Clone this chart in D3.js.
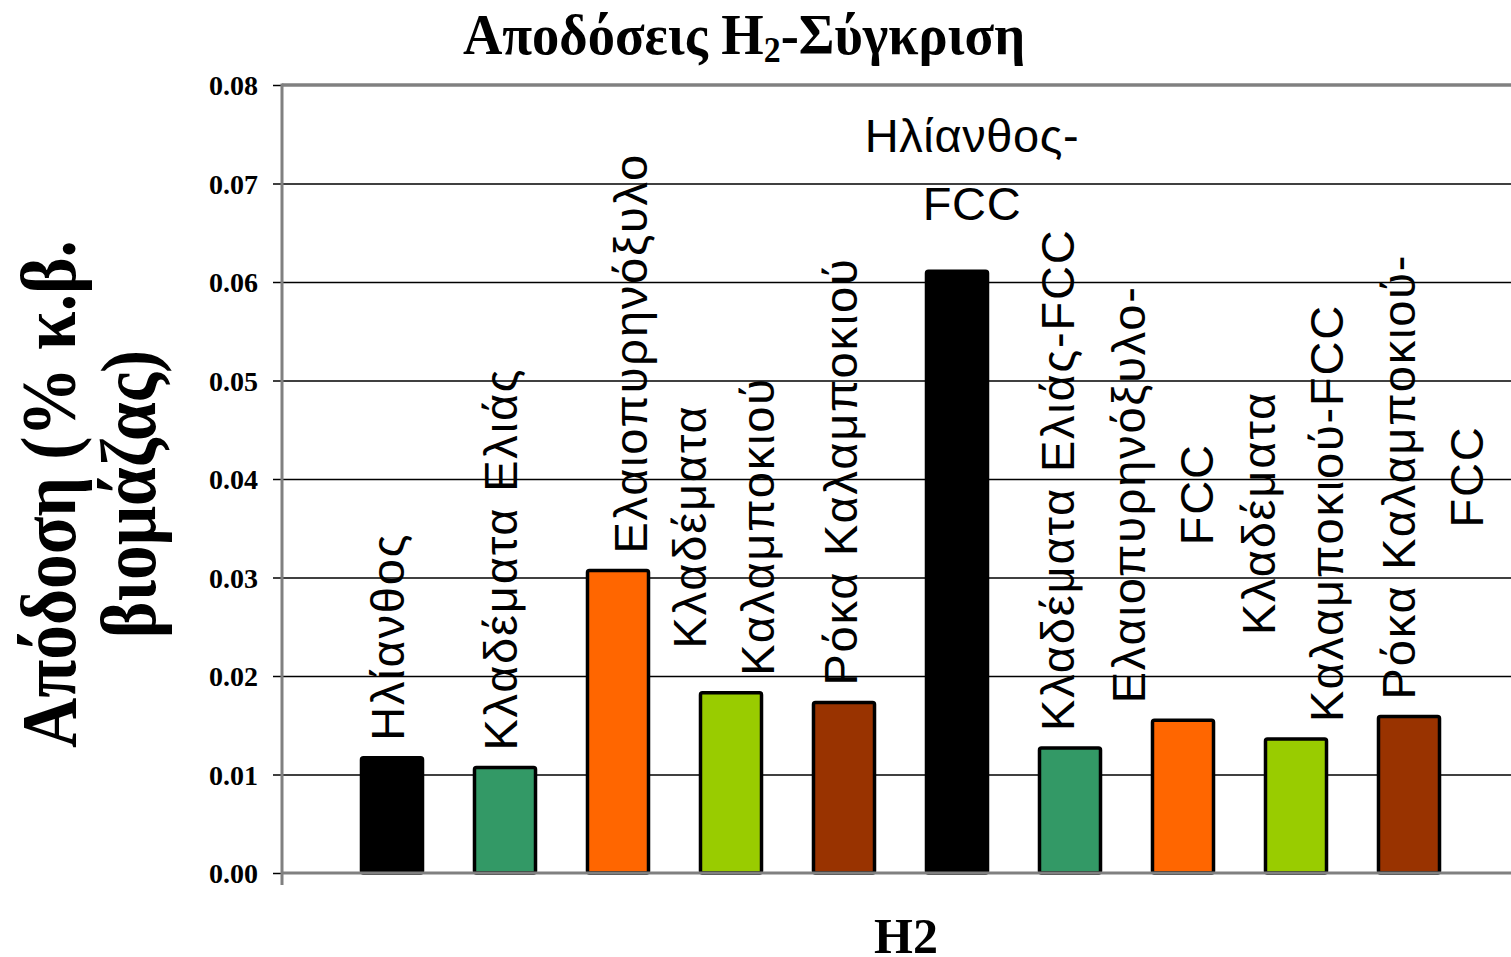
<!DOCTYPE html>
<html>
<head>
<meta charset="utf-8">
<script src="https://cdn.jsdelivr.net/npm/d3@7"></script>
<style>
  body { margin: 0; background: #fff; }
  svg { display: block; }
  .serif { font-family: "Liberation Serif", "Times New Roman", serif; font-weight: bold; fill: #000; }
  .lbl { font-family: "Liberation Sans", Arial, sans-serif; fill: #000; }
</style>
</head>
<body>
<svg id="chart"></svg>
<script>
// data
const series = ['Ηλίανθος', 'Κλαδέματα Ελιάς', 'Ελαιοπυρηνόξυλο', 'Κλαδέματα Καλαμποκιού', 'Ρόκα Καλαμποκιού',
  'Ηλίανθος-FCC', 'Κλαδέματα Ελιάς-FCC', 'Ελαιοπυρηνόξυλο-FCC', 'Κλαδέματα Καλαμποκιού-FCC', 'Ρόκα Καλαμποκιού-FCC']
const values = [0.0117, 0.0107, 0.0307, 0.0183, 0.0173, 0.0611, 0.0127, 0.0155, 0.0136, 0.0159]
const labelLines = [['Ηλίανθος'], ['Κλαδέματα Ελιάς'], ['Ελαιοπυρηνόξυλο'], ['Κλαδέματα', 'Καλαμποκιού'],
  ['Ρόκα Καλαμποκιού'], ['Ηλίανθος-', 'FCC'], ['Κλαδέματα Ελιάς-FCC'], ['Ελαιοπυρηνόξυλο-', 'FCC'],
  ['Κλαδέματα', 'Καλαμποκιού-FCC'], ['Ρόκα Καλαμποκιού-', 'FCC']]
const yTicks = [0, 0.01, 0.02, 0.03, 0.04, 0.05, 0.06, 0.07, 0.08]
const category = 'H2'
const yTitle = ['Απόδοση (% κ.β.', 'βιομάζας)']

// styling
const colors = ['#000000', '#339966', '#ff6600', '#99cc00', '#993300',
  '#000000', '#339966', '#ff6600', '#99cc00', '#993300']
const labelNudge = [-5, -5, 12, -8, -4, 15, -13, -21, -4, 23]
const horizontalLabel = [false, false, false, false, false, true, false, false, false, false]

const W = 1511
const H = 957
const margin = { t: 85, r: -10, b: 84, l: 282 }
const innerWidth = W - margin.l - margin.r
const innerHeight = H - margin.t - margin.b

const svg = d3.select('#chart').attr('width', W).attr('height', H)

const y = d3.scaleLinear().domain([0, 0.08]).range([innerHeight, 0])
const x = d3.scaleBand()
  .domain(series)
  .range([53.5, 1183.5])
  .paddingInner(0.46)
  .paddingOuter(0.23)

const plot = svg.append('g')
  .attr('class', 'plot')
  .attr('transform', `translate(${margin.l}, ${margin.t})`)

// gridlines
plot.append('g')
  .attr('class', 'grid')
  .call(d3.axisLeft(y).tickValues(yTicks.slice(1, -1)).tickSize(-innerWidth).tickFormat(''))
  .call(g => g.select('.domain').remove())
  .call(g => g.selectAll('line').attr('stroke', '#000').attr('stroke-width', 1.3))

// plot frame top
plot.append('line')
  .attr('x1', 0).attr('x2', innerWidth)
  .attr('y1', y(0.08)).attr('y2', y(0.08))
  .attr('stroke', '#808080').attr('stroke-width', 3.5)

// bars
plot.selectAll('.bar')
  .data(series)
  .enter()
  .append('rect')
  .attr('class', 'bar')
  .attr('x', d => x(d))
  .attr('y', (d, i) => y(values[i]))
  .attr('width', x.bandwidth())
  .attr('height', (d, i) => y(0) - y(values[i]))
  .attr('rx', 2)
  .attr('fill', (d, i) => colors[i])
  .attr('stroke', '#000')
  .attr('stroke-width', 3.5)

// y axis
plot.append('g')
  .attr('class', 'axis axis-y')
  .call(d3.axisLeft(y).tickValues(yTicks).tickSize(9).tickSizeOuter(0).tickPadding(15).tickFormat(d3.format('.2f')))
  .call(g => g.select('.domain').remove())
  .call(g => g.selectAll('line').attr('stroke', '#000').attr('stroke-width', 1.5))
  .call(g => g.selectAll('text').attr('class', 'serif').attr('font-size', 28).attr('dy', '0.34em'))

// axis lines (left + bottom)
plot.append('line')
  .attr('x1', 0).attr('x2', 0)
  .attr('y1', y(0.08) - 1.5).attr('y2', innerHeight + 12)
  .attr('stroke', '#808080').attr('stroke-width', 3)
plot.append('line')
  .attr('x1', 0).attr('x2', innerWidth)
  .attr('y1', innerHeight).attr('y2', innerHeight)
  .attr('stroke', '#808080').attr('stroke-width', 3)

// data labels
const lineGap = 68
const labels = plot.selectAll('.label')
  .data(series)
  .enter()
  .append('g')
  .attr('class', 'label')

labels.each(function(d, i) {
  const g = d3.select(this)
  const lines = labelLines[i]
  const cx = x(d) + x.bandwidth() / 2 + labelNudge[i]
  const top = y(values[i])
  if (horizontalLabel[i]) {
    lines.forEach((t, k) => {
      g.append('text')
        .attr('class', 'lbl')
        .attr('font-size', 47)
        .attr('letter-spacing', 0.6)
        .attr('text-anchor', 'middle')
        .attr('x', cx)
        .attr('y', top - 51 - (lines.length - 1 - k) * lineGap)
        .text(t)
    })
  } else {
    const rot = g.append('g')
      .attr('transform', `translate(${cx}, ${top - 17}) rotate(-90)`)
    const texts = lines.map((t, k) => rot.append('text')
      .attr('class', 'lbl')
      .attr('font-size', 47)
      .attr('letter-spacing', 1.8)
      .attr('text-anchor', 'middle')
      .attr('y', (k - (lines.length - 1) / 2) * lineGap)
      .attr('dy', '0.36em')
      .text(t))
    const maxW = d3.max(texts, t => t.node().getComputedTextLength())
    texts.forEach(t => t.attr('x', maxW / 2))
  }
})

// title
const title = svg.append('text')
  .attr('class', 'serif')
  .attr('font-size', 58)
  .attr('text-anchor', 'middle')
  .attr('transform', 'translate(744, 54) scale(0.94, 1)')
title.append('tspan').text('Αποδόσεις H')
title.append('tspan').attr('font-size', 36).attr('dy', 8).text('2')
title.append('tspan').attr('dy', -8).text('-Σύγκριση')

// x axis title
svg.append('text')
  .attr('class', 'serif')
  .attr('font-size', 50)
  .attr('text-anchor', 'middle')
  .attr('x', 906)
  .attr('y', 953)
  .text(category)

// y axis title
const yt = svg.append('text')
  .attr('class', 'serif')
  .attr('font-size', 78)
  .attr('text-anchor', 'middle')
  .attr('transform', 'translate(0, 494) rotate(-90) scale(0.89, 1)')
yTitle.forEach((t, k) => {
  yt.append('tspan')
    .attr('x', 0)
    .attr('y', 75 + k * 80)
    .text(t)
})
</script>
</body>
</html>
